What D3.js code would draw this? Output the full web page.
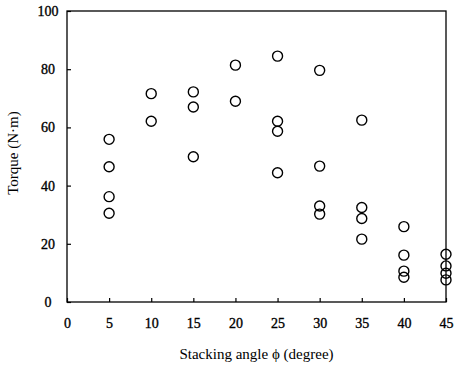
<!DOCTYPE html>
<html>
<head>
<meta charset="utf-8">
<script src="https://cdn.jsdelivr.net/npm/d3@7"></script>
<style>
  body { margin: 0; background: #fff; }
  svg text { font-family: "Liberation Serif", "DejaVu Serif", serif; fill: #000; }
</style>
</head>
<body>
<script>
// stacking angle (degree) and torque (N·m), one entry per measured sample
const angles = [5, 5, 5, 5,
                10, 10,
                15, 15, 15,
                20, 20,
                25, 25, 25, 25,
                30, 30, 30, 30,
                35, 35, 35, 35,
                40, 40, 40, 40,
                45, 45, 45, 45];
const torques = [55.9, 46.5, 36.2, 30.5,
                 71.6, 62.1,
                 72.2, 67.0, 49.9,
                 81.4, 69.0,
                 84.5, 62.1, 58.7, 44.4,
                 79.6, 46.7, 33.0, 30.2,
                 62.5, 32.5, 28.7, 21.6,
                 25.9, 16.1, 10.6, 8.5,
                 16.4, 12.4, 9.9, 7.6];
const xTicks = [0, 5, 10, 15, 20, 25, 30, 35, 40, 45];
const yTicks = [0, 20, 40, 60, 80, 100];

const width = 454, height = 372;
const margin = {top: 11, right: 8, bottom: 70, left: 67};
const serif = '"Liberation Serif", "DejaVu Serif", serif';

const svg = d3.select("body").append("svg")
    .attr("width", width)
    .attr("height", height);

const x = d3.scaleLinear()
    .domain([0, 45])
    .range([margin.left, width - margin.right]);

const y = d3.scaleLinear()
    .domain([0, 100])
    .range([height - margin.bottom, margin.top]);

// frame
svg.append("rect")
    .attr("x", x(0))
    .attr("y", y(100))
    .attr("width", x(45) - x(0))
    .attr("height", y(0) - y(100))
    .attr("fill", "none")
    .attr("stroke", "#000")
    .attr("stroke-width", 1.3);

const xAxis = svg.append("g")
    .attr("transform", "translate(0," + y(0) + ")")
    .call(d3.axisBottom(x).tickValues(xTicks).tickSizeInner(-4).tickSizeOuter(0).tickPadding(16));
xAxis.attr("font-family", serif);
xAxis.select(".domain").remove();
xAxis.selectAll("line").attr("stroke-width", 1.2);
xAxis.selectAll("text")
    .style("font-family", serif)
    .style("font-size", "14px")
    .attr("stroke", "#000")
    .attr("stroke-width", 0.35);

const yAxis = svg.append("g")
    .attr("transform", "translate(" + x(0) + ",0)")
    .call(d3.axisLeft(y).tickValues(yTicks).tickSizeInner(-4).tickSizeOuter(0).tickPadding(19));
yAxis.attr("font-family", serif);
yAxis.select(".domain").remove();
yAxis.selectAll("line").attr("stroke-width", 1.2);
yAxis.selectAll("text")
    .style("font-family", serif)
    .style("font-size", "14px")
    .attr("text-anchor", "middle")
    .attr("stroke", "#000")
    .attr("stroke-width", 0.35);

// points
svg.append("g")
  .selectAll("circle")
  .data(angles)
  .enter()
  .append("circle")
    .attr("cx", d => x(d))
    .attr("cy", (d, i) => y(torques[i]))
    .attr("r", 5)
    .attr("fill", "none")
    .attr("stroke", "#000")
    .attr("stroke-width", 1.4);

// axis titles
svg.append("text")
    .attr("x", (x(0) + x(45)) / 2)
    .attr("y", 359)
    .attr("text-anchor", "middle")
    .style("font-size", "15px")
    .text("Stacking angle \u03D5 (degree)");

svg.append("text")
    .attr("transform", "translate(18," + 153 + ") rotate(-90)")
    .attr("text-anchor", "middle")
    .style("font-size", "15px")
    .text("Torque (N\u00B7m)");
</script>
</body>
</html>
